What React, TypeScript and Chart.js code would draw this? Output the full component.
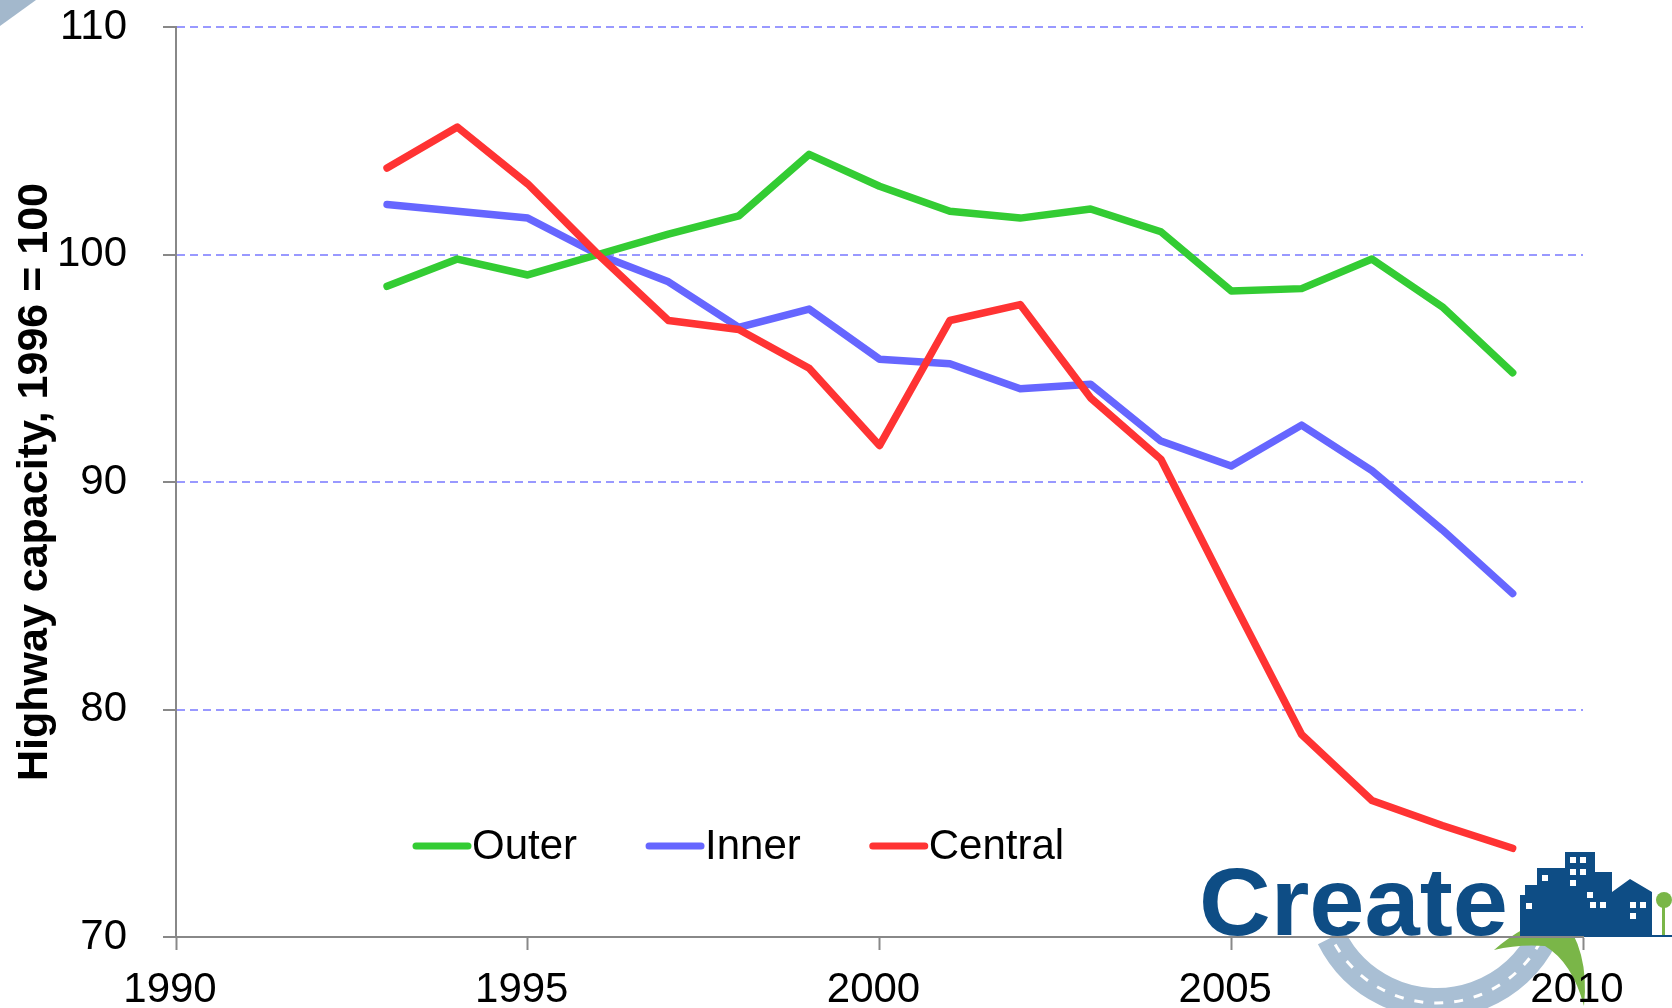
import React, { useEffect, useRef } from "react";
import { Chart, registerables } from "chart.js";

Chart.register(...registerables);

const years = [1993, 1994, 1995, 1996, 1997, 1998, 1999, 2000, 2001, 2002, 2003, 2004, 2005, 2006, 2007, 2008, 2009];
const outerValues = [98.6, 99.8, 99.1, 100.0, 100.9, 101.7, 104.4, 103.0, 101.9, 101.6, 102.0, 101.0, 98.4, 98.5, 99.8, 97.7, 94.8];
const innerValues = [102.2, 101.9, 101.6, 100.0, 98.8, 96.8, 97.6, 95.4, 95.2, 94.1, 94.3, 91.8, 90.7, 92.5, 90.5, 87.9, 85.1];
const centralValues = [103.8, 105.6, 103.1, 100.0, 97.1, 96.7, 95.0, 91.6, 97.1, 97.8, 93.7, 91.0, 84.9, 78.9, 76.0, 74.9, 73.9];
const seriesLabels = ["Outer", "Inner", "Central"];
const seriesColors = ["#33cc33", "#6666ff", "#ff3333"];
const xMin = 1990;
const xMax = 2010;
const xStep = 5;
const yMin = 70;
const yMax = 110;
const yStep = 10;
const yTitle = "Highway capacity, 1996 = 100";
const logoText = "Create";

const FONT = '"Liberation Sans", Arial, sans-serif';

const logoPlugin = {
  id: "logoPlugin",
  beforeDraw(chart: any) {
    const ctx = chart.ctx as CanvasRenderingContext2D;
    ctx.save();
    // top-left corner decoration
    ctx.fillStyle = "#a3b8cc";
    ctx.beginPath();
    ctx.moveTo(0, 0);
    ctx.lineTo(36, 0);
    ctx.lineTo(0, 26);
    ctx.closePath();
    ctx.fill();

    // road arc
    ctx.strokeStyle = "#a9bfd4";
    ctx.lineWidth = 30;
    ctx.beginPath();
    ctx.arc(1437, 885, 118, 0.45, 2.68);
    ctx.stroke();
    ctx.strokeStyle = "#ffffff";
    ctx.lineWidth = 3;
    ctx.setLineDash([9, 11]);
    ctx.beginPath();
    ctx.arc(1437, 885, 118, 0.5, 2.64);
    ctx.stroke();
    ctx.setLineDash([]);

    // green arrow
    ctx.fillStyle = "#7ab648";
    ctx.beginPath();
    ctx.moveTo(1560, 914);
    ctx.quadraticCurveTo(1590, 950, 1584, 1006);
    ctx.quadraticCurveTo(1572, 962, 1545, 946);
    ctx.quadraticCurveTo(1518, 944, 1494, 950);
    ctx.quadraticCurveTo(1522, 925, 1560, 914);
    ctx.closePath();
    ctx.fill();

    // Create text
    ctx.fillStyle = "#0e4d85";
    ctx.font = "bold 97px " + FONT;
    ctx.textBaseline = "alphabetic";
    ctx.textAlign = "left";
    const w = ctx.measureText(logoText).width;
    ctx.save();
    ctx.translate(1199, 935);
    ctx.scale(309 / w, 1);
    ctx.fillText(logoText, 0, 0);
    ctx.restore();

    // buildings
    const pts = [
      [1520, 935], [1520, 895], [1525, 895], [1525, 885], [1537, 885], [1537, 868],
      [1565, 868], [1565, 852], [1595, 852], [1595, 872], [1612, 872], [1612, 892],
      [1630, 879], [1652, 892], [1652, 935],
    ];
    ctx.beginPath();
    pts.forEach((p, i) => (i === 0 ? ctx.moveTo(p[0], p[1]) : ctx.lineTo(p[0], p[1])));
    ctx.closePath();
    ctx.fill();
    ctx.fillRect(1520, 935, 152, 2);
    ctx.fillStyle = "#ffffff";
    const wins = [
      [1570, 857], [1580, 857], [1570, 869], [1580, 869], [1570, 880],
      [1542, 875], [1526, 903], [1587, 892], [1590, 902], [1600, 902],
      [1630, 902], [1640, 902], [1630, 913],
    ];
    wins.forEach((p) => ctx.fillRect(p[0], p[1], 6, 6));
    // tree
    ctx.fillStyle = "#7ab648";
    ctx.beginPath();
    ctx.arc(1664, 900, 8, 0, Math.PI * 2);
    ctx.fill();
    ctx.fillRect(1662, 900, 3, 35);
    ctx.restore();
  },
};

const legendPlugin = {
  id: "customLegend",
  afterDraw(chart: any) {
    const ctx = chart.ctx as CanvasRenderingContext2D;
    ctx.save();
    ctx.font = "42px " + FONT;
    ctx.textBaseline = "middle";
    ctx.textAlign = "left";
    let x = 416;
    const y = 846;
    chart.data.datasets.forEach((ds: any) => {
      ctx.strokeStyle = ds.borderColor;
      ctx.lineWidth = 7;
      ctx.lineCap = "round";
      ctx.beginPath();
      ctx.moveTo(x, y);
      ctx.lineTo(x + 52, y);
      ctx.stroke();
      ctx.fillStyle = "#000000";
      ctx.fillText(ds.label, x + 56, y + 1);
      x += 56 + ctx.measureText(ds.label).width + 72;
    });
    ctx.restore();
  },
};

export default function App() {
  const ref = useRef<HTMLCanvasElement>(null);
  useEffect(() => {
    if (!ref.current) return;
    const series = [outerValues, innerValues, centralValues];
    const drawOrder = [2, 3, 1];
    const chart = new Chart(ref.current, {
      type: "line",
      data: {
        datasets: series.map((vals, i) => ({
          label: seriesLabels[i],
          data: years.map((yr, j) => ({ x: yr, y: vals[j] })),
          borderColor: seriesColors[i],
          backgroundColor: seriesColors[i],
          borderWidth: 7.5,
          borderCapStyle: "round",
          borderJoinStyle: "round",
          pointRadius: 0,
          tension: 0,
          order: drawOrder[i],
        })),
      },
      options: {
        responsive: false,
        animation: false,
        layout: { padding: { top: 27, right: 89, left: 0, bottom: 0 } },
        plugins: { legend: { display: false }, tooltip: { enabled: false }, title: { display: false } },
        scales: {
          x: {
            type: "linear",
            min: xMin,
            max: xMax,
            afterFit: (s: any) => { s.height = 71; },
            ticks: {
              stepSize: xStep,
              color: "#000",
              font: { family: FONT, size: 42 },
              padding: 15,
              labelOffset: -6,
              maxRotation: 0,
              callback: (v: any) => String(v),
            },
            grid: { drawOnChartArea: false, drawTicks: true, tickLength: 13, tickColor: "#888888", tickWidth: 2 },
            border: { display: true, color: "#888888", width: 2 },
          },
          y: {
            min: yMin,
            max: yMax,
            afterFit: (s: any) => { s.width = 176; s.paddingTop = 0; s.paddingBottom = 0; },
            ticks: {
              stepSize: yStep,
              color: "#000",
              font: { family: FONT, size: 42 },
              padding: 36,
              callback: (v: any) => String(v),
            },
            grid: {
              color: (c: any) => (c.tick && c.tick.value === yMin ? "rgba(0,0,0,0)" : "#9999ff"),
              lineWidth: 2,
              tickLength: 13,
              tickColor: "#888888",
              tickWidth: 2,
            },
            border: { display: true, color: "#888888", width: 2, dash: [8, 5] },
            title: {
              display: true,
              text: yTitle,
              color: "#000",
              font: { family: FONT, size: 43, weight: "bold" },
              padding: { top: 9, bottom: 0 },
            },
          },
        },
      },
      plugins: [logoPlugin, legendPlugin],
    } as any);
    return () => chart.destroy();
  }, []);
  return (
    <div style={{ position: "absolute", left: 0, top: 0, width: 1672, height: 1008, background: "#fff" }}>
      <canvas ref={ref} width={1672} height={1008} style={{ display: "block" }} />
    </div>
  );
}
